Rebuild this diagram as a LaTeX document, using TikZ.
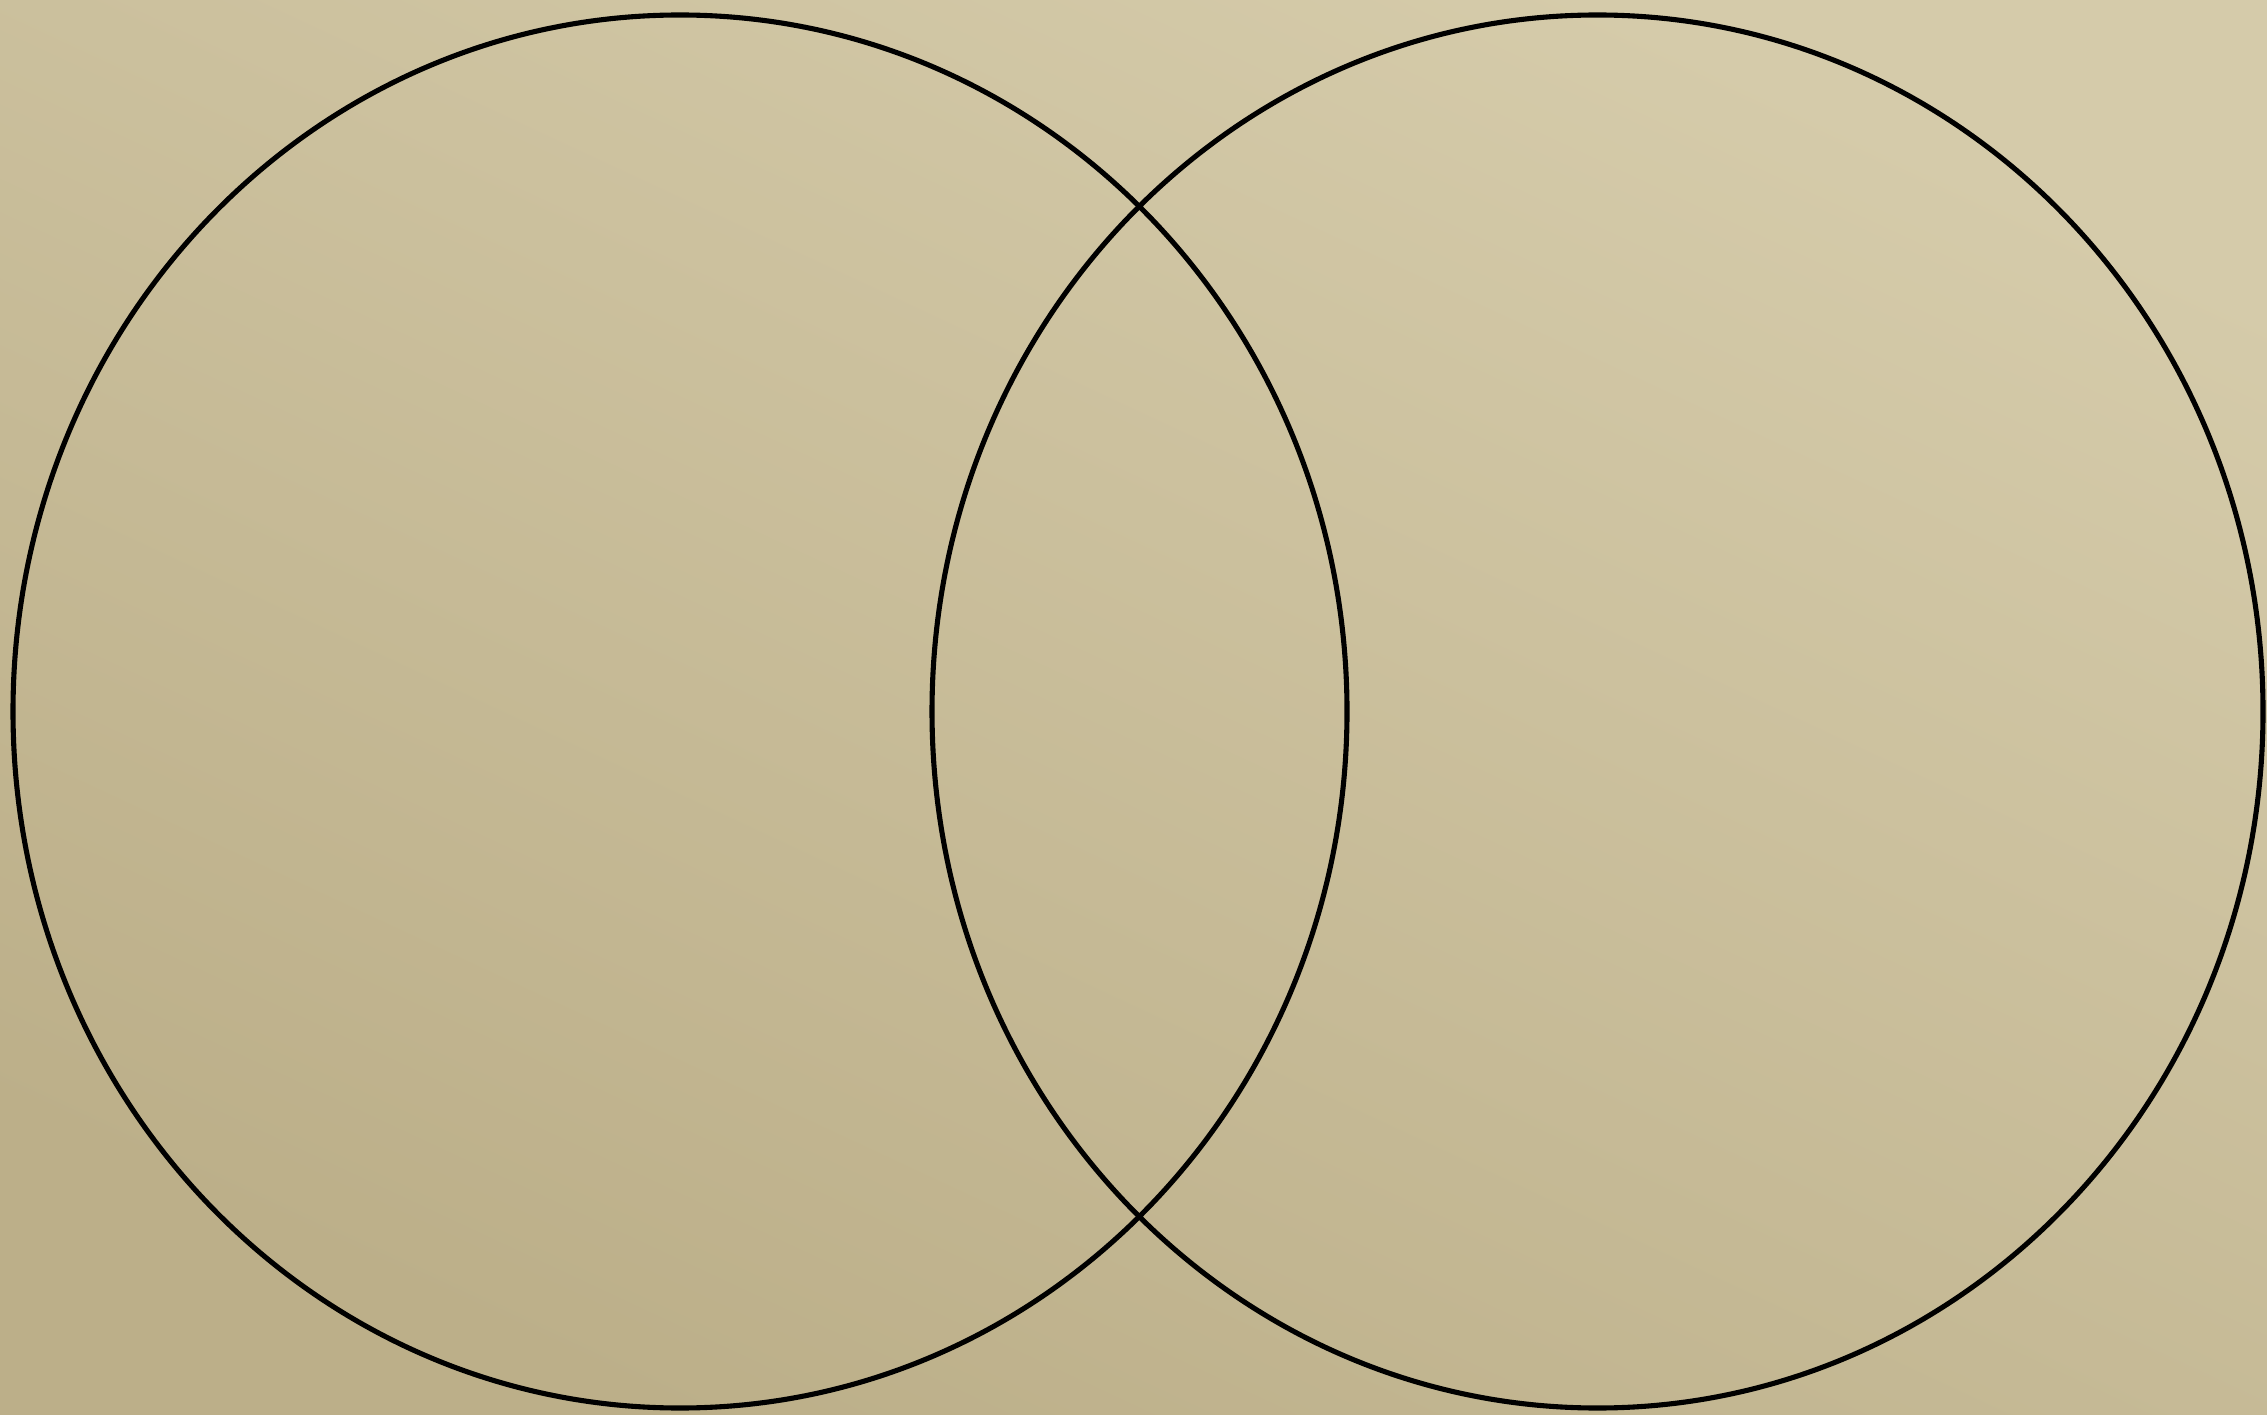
\documentclass[tikz,border=0pt]{standalone}
\usepackage[dvipsnames]{xcolor}
\usetikzlibrary{positioning}
\definecolor{paperlight}{RGB}{213,203,170}
\definecolor{paperdark}{RGB}{188,175,137}

\begin{document}
\begin{tikzpicture}[scale=1.0,
  venncirc/.style={draw=black, line width=1.45pt}]

\shade[top color=paperlight, bottom color=paperdark, shading angle=-25]
  (0,0) rectangle (22.67,14.14);
\useasboundingbox (0,0) rectangle (22.67,14.14);

\coordinate (A) at (6.80,7.025);
\coordinate (B) at (15.975,7.025);

\draw[venncirc] (A) ellipse [x radius=6.67, y radius=6.965];
\draw[venncirc] (B) ellipse [x radius=6.655, y radius=6.965];

\end{tikzpicture}
\end{document}
